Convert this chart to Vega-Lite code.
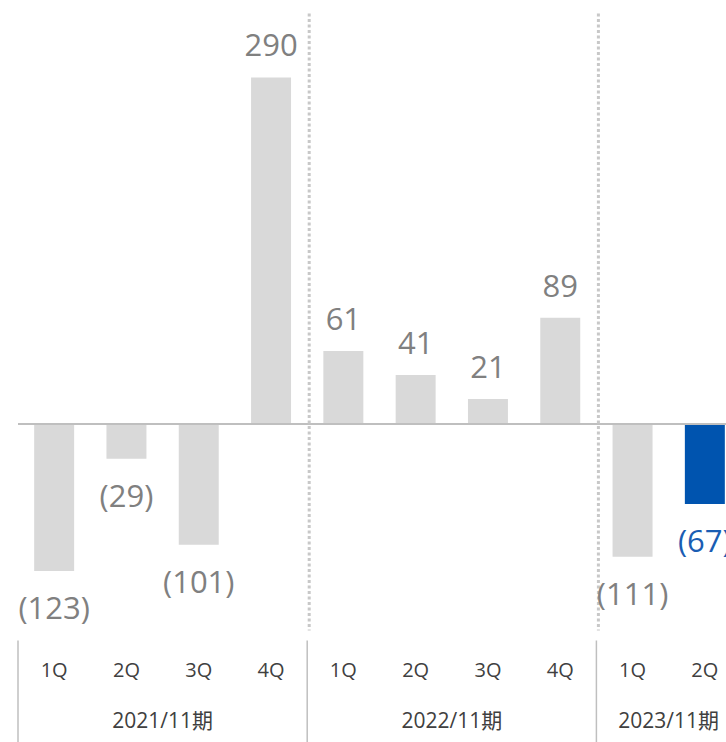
{
  "$schema": "https://vega.github.io/schema/vega-lite/v6.json",
  "autosize": {"type": "pad"},
  "bounds": "flush",
  "padding": {"left": 17, "top": 11.5, "right": 0, "bottom": 0},
  "background": "white",
  "config": {"view": {"stroke": null}, "font": "Open Sans"},
  "datasets": {
    "quarters": [
      {"key": "2021-1Q", "q": "1Q", "fy": "2021/11期", "value": -123},
      {"key": "2021-2Q", "q": "2Q", "fy": "2021/11期", "value": -29},
      {"key": "2021-3Q", "q": "3Q", "fy": "2021/11期", "value": -101},
      {"key": "2021-4Q", "q": "4Q", "fy": "2021/11期", "value": 290},
      {"key": "2022-1Q", "q": "1Q", "fy": "2022/11期", "value": 61},
      {"key": "2022-2Q", "q": "2Q", "fy": "2022/11期", "value": 41},
      {"key": "2022-3Q", "q": "3Q", "fy": "2022/11期", "value": 21},
      {"key": "2022-4Q", "q": "4Q", "fy": "2022/11期", "value": 89},
      {"key": "2023-1Q", "q": "1Q", "fy": "2023/11期", "value": -111},
      {"key": "2023-2Q", "q": "2Q", "fy": "2023/11期", "value": -67}
    ],
    "groups": [
      {"fy": "2021/11期", "first": "2021-1Q", "mid": "2021-2Q"},
      {"fy": "2022/11期", "first": "2022-1Q", "mid": "2022-2Q"},
      {"fy": "2023/11期", "first": "2023-1Q", "mid": "2023-1Q"}
    ]
  },
  "spacing": 10,
  "vconcat": [
    {
      "width": 709,
      "height": 617,
      "layer": [
        {
          "data": {"name": "quarters"},
          "mark": {"type": "bar", "width": {"band": 0.553}, "clip": true},
          "encoding": {
            "x": {"field": "key", "type": "nominal", "sort": null, "axis": null,
                  "scale": {"domain": ["2021-1Q","2021-2Q","2021-3Q","2021-4Q","2022-1Q","2022-2Q","2022-3Q","2022-4Q","2023-1Q","2023-2Q"], "range": [0, 723], "paddingInner": 0, "paddingOuter": 0}},
            "y": {"field": "value", "type": "quantitative", "axis": null,
                  "scale": {"domain": [-172.8, 343.5], "nice": false, "zero": false}},
            "color": {"condition": {"test": "datum.key === '2023-2Q'", "value": "#0054AF"}, "value": "#D9D9D9"}
          }
        },
        {
          "data": {"values": [{"v": 0}]},
          "mark": {"type": "rule", "color": "#BFBFBF", "strokeWidth": 2},
          "encoding": {
            "y": {"field": "v", "type": "quantitative"}
          }
        },
        {
          "data": {"name": "groups"},
          "transform": [{"filter": "datum.first !== '2021-1Q'"}],
          "mark": {"type": "rule", "color": "#C8C8C8", "strokeWidth": 3, "strokeDash": [3, 2.5], "xOffset": 2},
          "encoding": {
            "x": {"field": "first", "type": "nominal", "bandPosition": 0}
          }
        },
        {
          "data": {"name": "quarters"},
          "transform": [{"filter": "datum.value >= 0"}],
          "mark": {"type": "text", "fontSize": 31, "baseline": "alphabetic", "dy": -21, "clip": true},
          "encoding": {
            "x": {"field": "key", "type": "nominal"},
            "y": {"field": "value", "type": "quantitative"},
            "text": {"field": "value", "type": "quantitative", "format": "(d"},
            "color": {"value": "#808080"}
          }
        },
        {
          "data": {"name": "quarters"},
          "transform": [{"filter": "datum.value < 0"}],
          "mark": {"type": "text", "fontSize": 31, "baseline": "top", "dy": 24, "clip": true},
          "encoding": {
            "x": {"field": "key", "type": "nominal"},
            "y": {"field": "value", "type": "quantitative"},
            "text": {"field": "value", "type": "quantitative", "format": "(d"},
            "color": {"condition": {"test": "datum.key === '2023-2Q'", "value": "#1A5DB3"}, "value": "#808080"}
          }
        }
      ]
    },
    {
      "width": 709,
      "height": 102,
      "layer": [
        {
          "data": {"name": "groups"},
          "mark": {"type": "rule", "color": "#BFBFBF", "strokeWidth": 1.5},
          "encoding": {
            "x": {"field": "first", "type": "nominal", "bandPosition": 0, "axis": null,
                  "scale": {"domain": ["2021-1Q","2021-2Q","2021-3Q","2021-4Q","2022-1Q","2022-2Q","2022-3Q","2022-4Q","2023-1Q","2023-2Q"], "range": [0, 723], "paddingInner": 0, "paddingOuter": 0}}
          }
        },
        {
          "data": {"name": "quarters"},
          "mark": {"type": "text", "fontSize": 20, "baseline": "middle", "color": "#404040", "clip": true},
          "encoding": {
            "x": {"field": "key", "type": "nominal"},
            "y": {"datum": "quarter", "type": "ordinal", "axis": null,
                  "scale": {"type": "point", "domain": ["quarter", "year"], "range": [30, 81], "padding": 0}},
            "text": {"field": "q", "type": "nominal"}
          }
        },
        {
          "data": {"name": "groups"},
          "mark": {"type": "text", "fontSize": 21, "baseline": "middle", "color": "#404040", "font": "Open Sans, Noto Sans CJK JP", "clip": true},
          "encoding": {
            "x": {"field": "mid", "type": "nominal", "bandPosition": 1},
            "y": {"datum": "year", "type": "ordinal"},
            "text": {"field": "fy", "type": "nominal"}
          }
        }
      ]
    }
  ]
}
